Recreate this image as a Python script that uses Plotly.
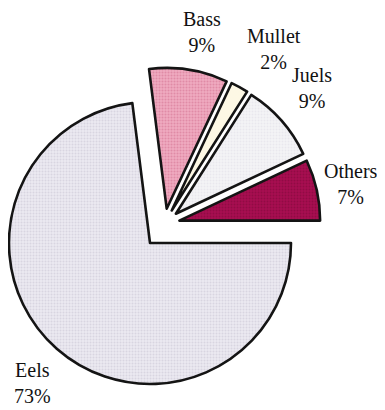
import plotly.graph_objects as go

# ---- data ----
labels = ["Eels", "Bass", "Mullet", "Juels", "Others"]
values = [73, 9, 2, 9, 7]
colors = ["#ebe9f0", "#eeaabf", "#fdf8e4", "#f4f4f6", "#a80e50"]
dot_colors = ["#c6c1d1", "#d26b8d", "#fdf8e4", "#dddce3", "#7a0838"]
exploded = [False, True, True, True, True]

# ---- layout helpers ----
OFF = 8                 # page body margin of the html page
W, H = 385 - OFF, 410 - OFF
R = 141                 # pie radius in px
PULL = 0.11             # explode fraction for the small slices
CLEAR = "rgba(0,0,0,0)"


def fx(sx):
    return (sx - OFF) / W


def fy(sy):
    return 1 - (sy - OFF) / H


def dom(cx, cy, half):
    return dict(x=[max(0, fx(cx - half)), min(1, fx(cx + half))],
                y=[max(0, fy(cy + half)), min(1, fy(cy - half))])


def pie(show, pull, domain):
    return go.Pie(
        labels=labels, values=values, sort=False, direction="clockwise",
        rotation=90, textinfo="none", hoverinfo="skip", showlegend=False,
        pull=pull,
        marker=dict(
            colors=[c if s else CLEAR for c, s in zip(colors, show)],
            line=dict(color="#141414", width=[2.6 if s else 0 for s in show]),
            pattern=dict(shape=["." if s else "" for s in show],
                         fillmode="overlay",
                         fgcolor=[d if s else CLEAR for d, s in zip(dot_colors, show)],
                         size=3, solidity=0.35),
        ),
        domain=domain,
    )


fig = go.Figure()
# main (unexploded) slice
fig.add_trace(pie([not e for e in exploded], 0, dom(150, 243, R)))
# exploded group
fig.add_trace(pie(exploded, [PULL if e else 0 for e in exploded],
                  dom(164, 224, R * (1 + PULL))))

label_pos = {"Bass": (202, 32), "Mullet": (274, 49), "Juels": (312, 88),
             "Others": (351, 184), "Eels": (32, 383)}

for lab, val in zip(labels, values):
    px, py = label_pos[lab]
    fig.add_annotation(x=fx(px), y=fy(py), xref="paper", yref="paper",
                       text=f"{lab}<br>{val}%", showarrow=False,
                       xanchor="center", yanchor="middle", align="center",
                       font=dict(family="Liberation Serif", size=20, color="#111111"))

fig.update_layout(width=W, height=H, margin=dict(l=0, r=0, t=0, b=0),
                  paper_bgcolor="white", plot_bgcolor="white")

fig.write_html("out.html")
